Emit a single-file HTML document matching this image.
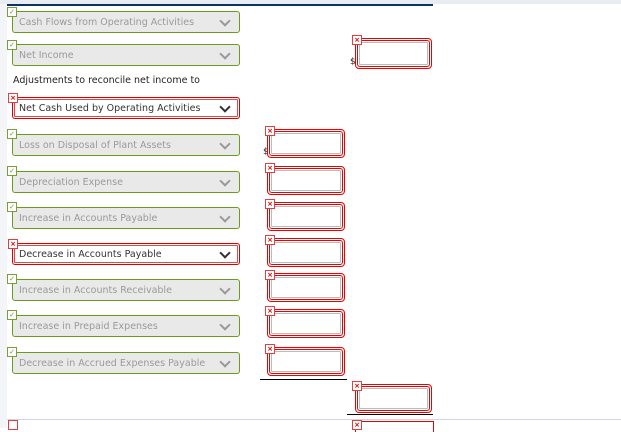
<!DOCTYPE html><html><head><style>
body{margin:0;width:621px;height:428px;position:relative;overflow:hidden;background:#fff;font-family:"DejaVu Sans","Liberation Sans",sans-serif;}
.strip{position:absolute;left:0;top:0;width:7px;height:428px;background:#f3f5f9}
.dd{position:absolute;left:12px;border:1px solid #6b9a1f;border-radius:3px;background:#e9e9e9;font-size:9.5px;color:#9a9a9a;line-height:21px;padding-left:6px;box-sizing:border-box;width:228px;height:22px;}
.dd.r{border:1px solid #d00;background:#fff;color:#333;box-shadow:inset 0 0 0 1px #fff,inset 0 0 0 2px #e44;}
.dd:after{content:"";position:absolute;right:10px;top:5px;width:6px;height:6px;border-right:2px solid #999;border-bottom:2px solid #999;transform:rotate(45deg)}
.dd.r:after{border-color:#333}
.ic{position:absolute;width:8px;height:8px;border:1px solid #7a9f3a;background:#fff;font-size:7px;line-height:8px;text-align:center;color:#6b9a1f}
.ic.x{border-color:#e04040;color:#d00;font-weight:bold}
.bx{position:absolute;border:1px solid #e00;border-radius:4px;padding:1px;box-sizing:border-box}
.bx div{width:100%;height:100%;border:1px solid #e00;border-radius:3px;padding:1px;box-sizing:border-box}
.bx div div{border:1px solid #bbb;border-radius:1px}
.ln{position:absolute;height:1px;background:#000}
.t{position:absolute;font-size:9.5px;color:#222}
</style></head><body>
<div class="strip"></div>
<div style="position:absolute;left:0;top:0;width:621px;height:4px;background:#e9edf2"></div>
<div style="position:absolute;left:7px;top:4px;width:426px;height:2px;background:#0d3461"></div>
<div style="position:absolute;left:7px;top:419px;width:614px;height:1px;background:#cfd6e0"></div>

<div class="dd" style="top:11px">Cash Flows from Operating Activities</div><div class="ic" style="left:7px;top:7px">✓</div>
<div class="dd" style="top:44px">Net Income</div><div class="ic" style="left:7px;top:40px">✓</div>
<div class="t" style="left:13px;top:75px">Adjustments to reconcile net income to</div>
<div class="dd r" style="top:97px">Net Cash Used by Operating Activities</div><div class="ic x" style="left:8px;top:93px">×</div>
<div class="dd" style="top:134px">Loss on Disposal of Plant Assets</div><div class="ic" style="left:7px;top:129px">✓</div>
<div class="dd" style="top:171px">Depreciation Expense</div><div class="ic" style="left:7px;top:166px">✓</div>
<div class="dd" style="top:207px">Increase in Accounts Payable</div><div class="ic" style="left:7px;top:202px">✓</div>
<div class="dd r" style="top:243px">Decrease in Accounts Payable</div><div class="ic x" style="left:8px;top:239px">×</div>
<div class="dd" style="top:279px">Increase in Accounts Receivable</div><div class="ic" style="left:7px;top:274px">✓</div>
<div class="dd" style="top:315px">Increase in Prepaid Expenses</div><div class="ic" style="left:7px;top:310px">✓</div>
<div class="dd" style="top:352px">Decrease in Accrued Expenses Payable</div><div class="ic" style="left:7px;top:347px">✓</div>

<div class="t" style="left:350px;top:57px;font-size:9px">$</div>
<div class="bx" style="left:355px;top:38px;width:77px;height:31px"><div><div></div></div></div><div class="ic x" style="left:352px;top:35px">×</div>
<div class="t" style="left:263px;top:147px;font-size:9px">$</div>
<div class="bx" style="left:267px;top:129px;width:78px;height:29px"><div><div></div></div></div><div class="ic x" style="left:265px;top:126px">×</div>
<div class="bx" style="left:267px;top:166px;width:78px;height:29px"><div><div></div></div></div><div class="ic x" style="left:265px;top:163px">×</div>
<div class="bx" style="left:267px;top:202px;width:78px;height:29px"><div><div></div></div></div><div class="ic x" style="left:265px;top:199px">×</div>
<div class="bx" style="left:267px;top:238px;width:78px;height:29px"><div><div></div></div></div><div class="ic x" style="left:265px;top:235px">×</div>
<div class="bx" style="left:267px;top:273px;width:78px;height:29px"><div><div></div></div></div><div class="ic x" style="left:265px;top:270px">×</div>
<div class="bx" style="left:267px;top:309px;width:78px;height:29px"><div><div></div></div></div><div class="ic x" style="left:265px;top:306px">×</div>
<div class="bx" style="left:267px;top:347px;width:78px;height:29px"><div><div></div></div></div><div class="ic x" style="left:265px;top:344px">×</div>
<div class="ln" style="left:260px;top:379px;width:87px"></div>
<div class="bx" style="left:355px;top:384px;width:77px;height:29px"><div><div></div></div></div><div class="ic x" style="left:352px;top:381px">×</div>
<div class="ln" style="left:347px;top:414px;width:86px"></div>
<div style="position:absolute;left:355px;top:421px;width:77px;height:10px;border:1px solid #e00;border-bottom:none"></div>
<div class="ic x" style="left:352px;top:420px">×</div>
<div class="ic x" style="left:8px;top:420px"></div>
</body></html>
